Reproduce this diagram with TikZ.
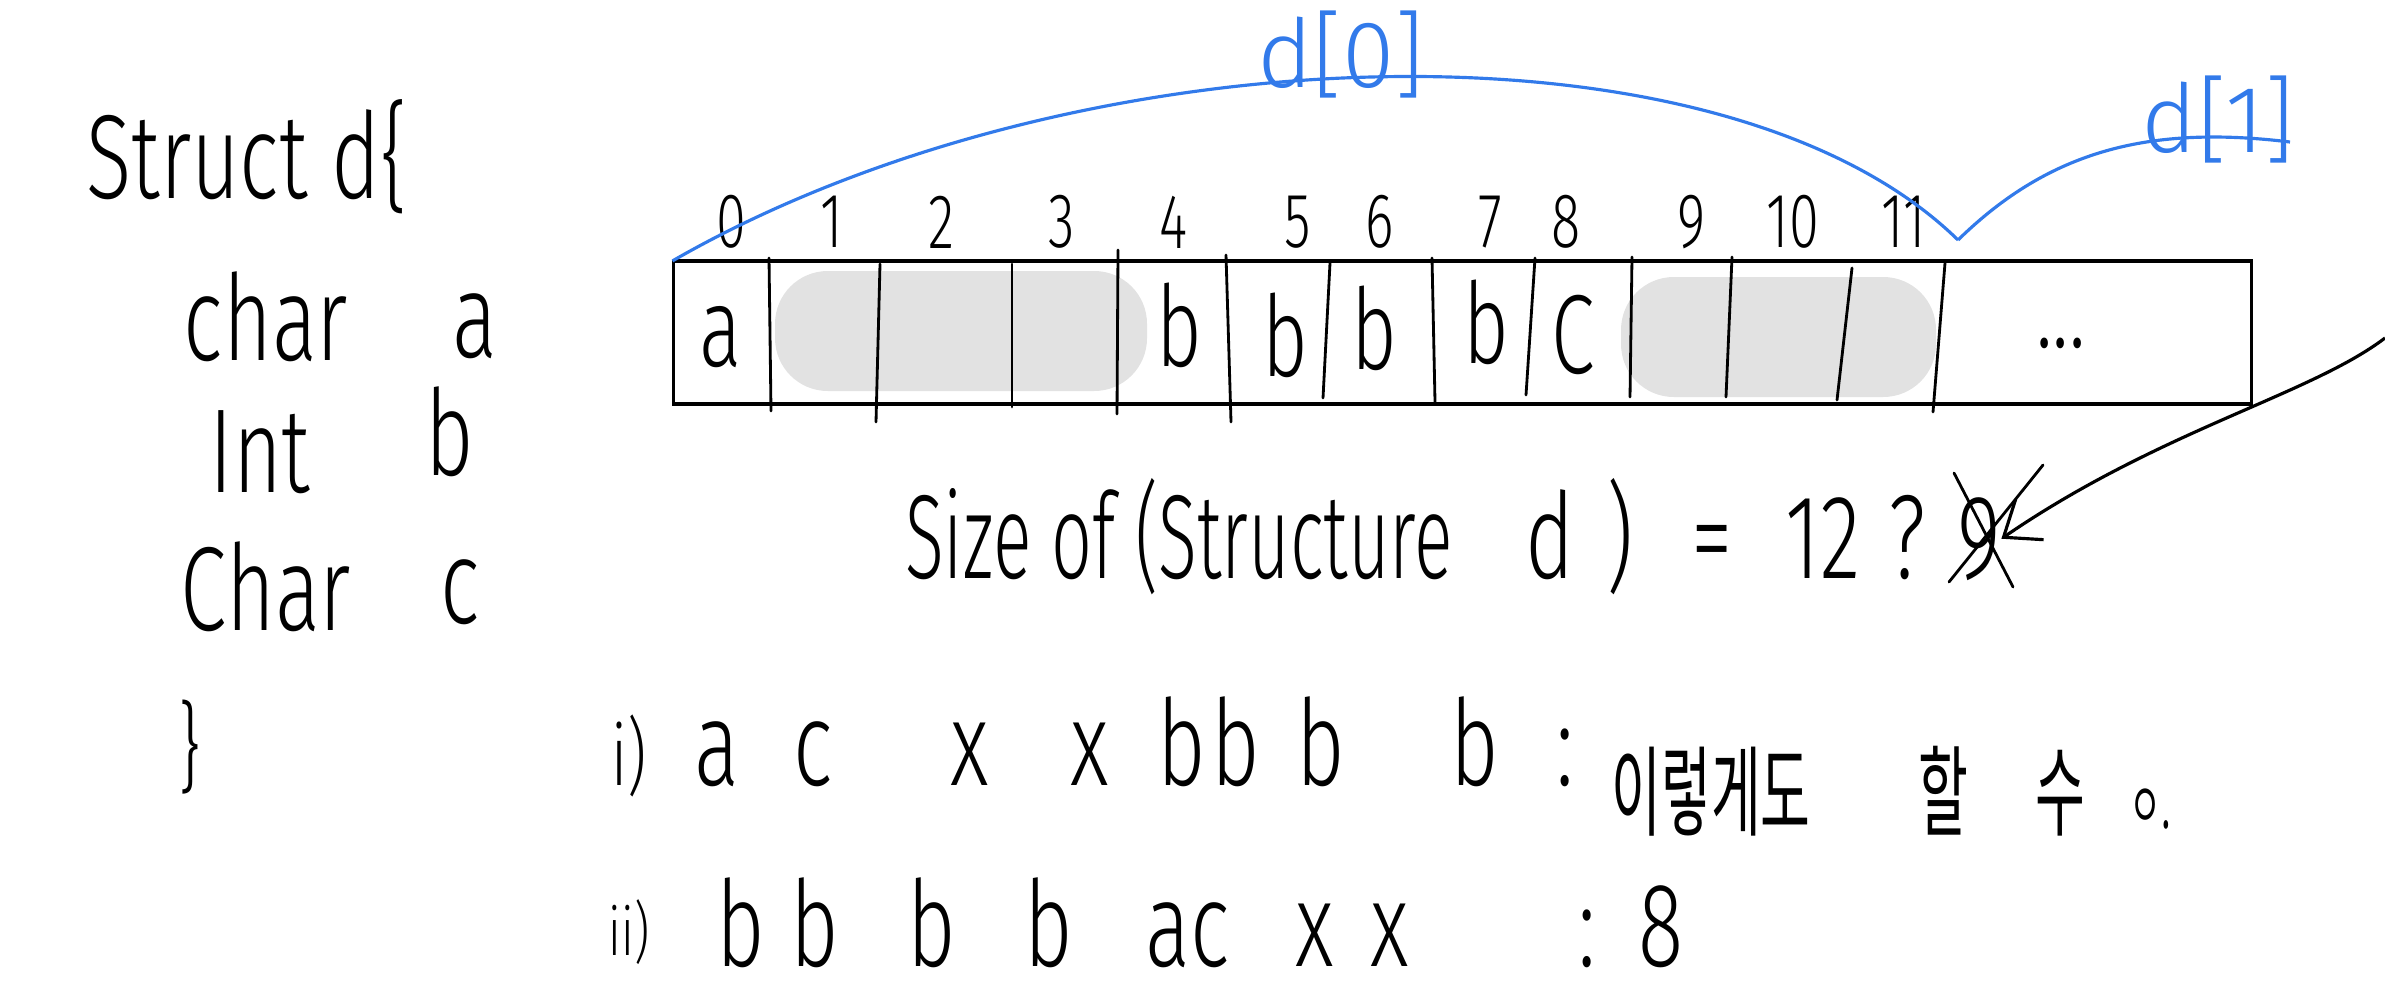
\documentclass[tikz,border=0pt]{standalone}
\usepackage{fontspec}
\setmainfont{Fira Sans}
\newfontfamily\hand{Fira Sans Light}[FakeStretch=0.7]
\newfontfamily\handnarrow{Fira Sans Light}[FakeStretch=0.6]
\newfontfamily\handwide{Fira Sans Light}
\newfontfamily\handkr{Noto Sans CJK KR}[FakeStretch=0.55]
\usetikzlibrary{arrows.meta}

\definecolor{penblue}{RGB}{50,122,234}
\definecolor{padgray}{RGB}{226,226,226}

\tikzset{
  txt/.style={font=\hand\fontsize{34}{40}\selectfont, inner sep=0pt, anchor=base},
  roman/.style={font=\hand\fontsize{24}{28}\selectfont, inner sep=0pt, anchor=base},
  idx/.style={font=\hand\fontsize{22}{26}\selectfont, inner sep=0pt},
  cellch/.style={font=\hand\fontsize{32}{38}\selectfont, inner sep=0pt},
  kr/.style={font=\handkr\fontsize{28}{32}\selectfont, inner sep=0pt, anchor=base},
  dlbl/.style={font=\handwide\fontsize{27}{32}\selectfont, text=penblue, inner sep=0pt},
  pen/.style={line width=0.8pt, line cap=round},
  bluepen/.style={draw=penblue, line width=0.9pt},
  pad/.style={fill=padgray, rounded corners=15pt},
  memline/.style={line width=1.2pt},
  arr/.style={-{Straight Barb[length=9pt, width=14pt]}, line width=0.9pt},
}

\begin{document}
\begin{tikzpicture}[x=0.01cm, y=-0.01cm]
\useasboundingbox (0,0) rectangle (2385,1000);

%% ── struct declaration (left) ───────────────────────────────────────────────
\node[txt] (sname) at (247,198) {Struct d\{};
\node[txt] (t1) at (266,360) {char};
\node[txt] (v1) at (475,357) {a};
\node[txt] (t2) at (260,492) {Int};
\node[txt] (v2) at (450,475) {b};
\node[txt] (t3) at (266,630) {Char};
\node[txt] (v3) at (460,623) {c};
\node[txt, font=\hand\fontsize{28}{32}\selectfont, anchor=center] (close) at (190,747) {\}};

%% ── padding bytes (grey) ────────────────────────────────────────────────────
\fill[pad] (775,271) rectangle (1147,391);
\fill[pad] (1621,277) rectangle (1936,397);

%% ── memory row ──────────────────────────────────────────────────────────────
\node[draw, line width=0.6pt, minimum width=15.77cm, minimum height=1.41cm,
      inner sep=0pt] (mem) at (1462.5,332.5) {};
\draw[memline] (mem.north west) -- (mem.north east);
\draw[memline] (mem.south west) -- (mem.south east);

\foreach \xt/\yt/\xb/\yb in {769/258/771/411, 880/264/876/422, 1012/264/1012/407,
    1118/250/1117/414, 1226/255/1231/422, 1330/263/1323/398, 1432/258/1435/402,
    1535/258/1526/395, 1632/257/1630/397, 1732/257/1726/397, 1852/268/1837/400,
    1945/263/1933/412}
  \draw[pen] (\xt,\yt) -- (\xb,\yb);

%% ── byte offsets ────────────────────────────────────────────────────────────
\foreach \n/\x in {0/731, 1/832, 2/941, 3/1062, 4/1174, 5/1298, 6/1380,
    7/1490, 8/1566, 9/1692, 10/1793, 11/1904}
  \node[idx] (o\n) at (\x,222) {\n};

%% ── cell contents ───────────────────────────────────────────────────────────
\node[cellch] (ca)  at (721,337)  {a};
\node[cellch] (cb1) at (1179,325) {b};
\node[cellch] (cb2) at (1285,335) {b};
\node[cellch] (cb3) at (1374,328) {b};
\node[cellch] (cb4) at (1486,322) {b};
\node[cellch] (cc)  at (1573,335) {C};
\node[cellch] (cdots) at (2061,343) {...};

%% ── d[0], d[1] spans (blue) ─────────────────────────────────────────────────
\coordinate (d0end) at (1958,240);
\coordinate (d1end) at (2290,142);
\draw[bluepen] (mem.north west) .. controls (1074,30) and (1721,8) .. (d0end);
\draw[bluepen] (d0end) .. controls (2050,150) and (2150,125) .. (d1end);
\node[dlbl] (d0) at (1341,55)  {d[0]};
\node[dlbl] (d1) at (2218,120) {d[1]};

%% ── size line ───────────────────────────────────────────────────────────────
\node[txt, font=\handnarrow\fontsize{34}{40}\selectfont] (sz) at (1179,578) {Size of (Structure};
\node[txt] (szd)  at (1550,578) {d};
\node[txt] (szp)  at (1620,578) {)};
\node[txt] (szeq) at (1712,578) {=};
\node[txt] (sz12) at (1823,578) {12};
\node[txt] (szq)  at (1907,578) {?};
\node[txt] (nine) at (1979,578) {9};
\draw[pen] (1954,473) -- (2013,587);
\draw[pen] (2043,465) -- (1949,582);

\coordinate (arrtail) at (2385,338);
\draw[arr] (arrtail) .. controls (2310,395) and (2160,430) .. (nine.east);

%% ── i) ──────────────────────────────────────────────────────────────────────
\node[roman] (r1) at (629,785) {i)};
\foreach \ch/\x [count=\k] in {a/717, c/813, x/970, x/1090, b/1182, b/1236,
    b/1321, b/1475, :/1565}
  \node[txt] (r1c\k) at (\x,785) {\ch};
\node[kr] (kr1) at (1711,828) {이렇게도};
\node[kr] (kr2) at (1943,828) {할};
\node[kr] (kr3) at (2060,828) {수};
\node[kr, font=\handkr\fontsize{18}{22}\selectfont] (kr4) at (2150,828) {ㅇ.};

%% ── ii) ─────────────────────────────────────────────────────────────────────
\node[roman, font=\hand\fontsize{19}{22}\selectfont] (r2) at (629,955) {ii)};
\foreach \ch/\x [count=\k] in {b/741, b/815, b/932, b/1049, ac/1188, x/1315,
    x/1390, :/1587, 8/1661}
  \node[txt] (r2c\k) at (\x,966) {\ch};

\end{tikzpicture}
\end{document}
